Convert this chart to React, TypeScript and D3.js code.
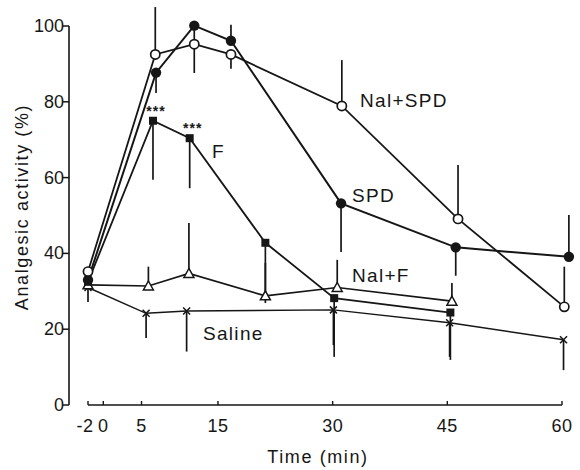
import React from "react";
import * as d3 from "d3";

// time (min) and analgesic activity (%)
const nalSpdT = [-2, 6.8, 11.9, 16.7, 31.2, 46.4, 60.3];
const nalSpdV = [35.2, 92.5, 95.2, 92.5, 78.9, 49.1, 25.9];
const nalSpdErr = [null, 105, null, 88.7, 91, 63.3, 36.5];

const spdT = [-2, 6.9, 11.9, 16.7, 31.1, 46.1, 60.9];
const spdV = [33, 87.7, 100.1, 96.1, 53.2, 41.6, 39.1];
const spdErr = [null, 82.3, 87.6, 100.3, 40.4, 34.1, 50.1];

const fT = [-2, 6.5, 11.3, 21.2, 30.2, 45.4];
const fV = [32.5, 75, 70.4, 42.8, 28.2, 24.4];
const fErr = [null, 59.4, 57.2, 26.9, 12.7, 11.9];

const nalFT = [-2, 5.9, 11.2, 21.2, 30.6, 45.6];
const nalFV = [31.7, 31.4, 34.7, 28.8, 31, 27.4];
const nalFErr = [null, 36.5, 48, 37.5, 38.3, 32.2];

const salineT = [-2, 5.6, 10.9, 30.1, 45.3, 60.2];
const salineV = [31, 24.2, 24.8, 25.1, 21.7, 17.2];
const salineErr = [27.2, 17.7, 14.1, 15.8, 12.7, 9.2];

// F points marked *** (index into fT)
const starred = [1, 2];

const xTicks = [-2, 0, 5, 15, 30, 45, 60];
const yTicks = [0, 20, 40, 60, 80, 100];

const ink = "#161616";
const font = "'Liberation Sans', Arial, sans-serif";

const width = 580;
const height = 470;

const x = d3.scaleLinear().domain([-2, 60]).range([88, 562]);
const y = d3.scaleLinear().domain([0, 100]).range([405, 26]);

type Series = {
  t: number[];
  v: number[];
  err: (number | null)[];
  marker: "openCircle" | "dot" | "square" | "triangle" | "cross";
  lw: number;
};

const series: Series[] = [
  { t: salineT, v: salineV, err: salineErr, marker: "cross", lw: 1.4 },
  { t: nalFT, v: nalFV, err: nalFErr, marker: "triangle", lw: 1.7 },
  { t: fT, v: fV, err: fErr, marker: "square", lw: 1.8 },
  { t: spdT, v: spdV, err: spdErr, marker: "dot", lw: 2 },
  { t: nalSpdT, v: nalSpdV, err: nalSpdErr, marker: "openCircle", lw: 1.8 },
];

const line = d3
  .line<[number, number]>()
  .x((d) => x(d[0]))
  .y((d) => y(d[1]));

function Marker({ kind, cx, cy }: { kind: Series["marker"]; cx: number; cy: number }) {
  if (kind === "openCircle")
    return <circle cx={cx} cy={cy} r={4.6} fill="#fff" stroke={ink} strokeWidth={1.7} />;
  if (kind === "dot") return <circle cx={cx} cy={cy} r={5.2} fill={ink} />;
  if (kind === "square")
    return <rect x={cx - 4} y={cy - 4} width={8} height={8} fill={ink} />;
  if (kind === "triangle") {
    const s = 5;
    return (
      <path
        d={`M${cx},${cy - s}L${cx + s},${cy + s * 0.8}L${cx - s},${cy + s * 0.8}Z`}
        fill="#fff"
        stroke={ink}
        strokeWidth={1.5}
      />
    );
  }
  const s = 3.5;
  return (
    <path
      d={`M${cx - s},${cy - s}L${cx + s},${cy + s}M${cx + s},${cy - s}L${cx - s},${cy + s}`}
      stroke={ink}
      strokeWidth={1.5}
    />
  );
}

export default function App() {
  const textStyle = { fontFamily: font, fill: ink, letterSpacing: "1.3px" } as const;
  return (
    <svg
      width={width}
      height={height}
      style={{ position: "absolute", left: 0, top: 0, background: "#fff" }}
    >
      {/* y axis */}
      <line x1={69} x2={69} y1={y(0)} y2={y(100)} stroke={ink} strokeWidth={1.6} />
      {yTicks.map((v) => (
        <g key={v}>
          <line x1={63} x2={69} y1={y(v)} y2={y(v)} stroke={ink} strokeWidth={1.5} />
          <text
            x={64}
            y={y(v)}
            textAnchor="end"
            dominantBaseline="central"
            fontSize={18}
            style={{ ...textStyle, letterSpacing: "0px" }}
          >
            {v}
          </text>
        </g>
      ))}
      <text
        transform={`translate(22,207) rotate(-90)`}
        textAnchor="middle"
        dominantBaseline="central"
        fontSize={18}
        style={{ ...textStyle, letterSpacing: "1.6px" }}
      >
        Analgesic activity (%)
      </text>

      {/* x axis */}
      <line x1={x(-2)} x2={x(60)} y1={405} y2={405} stroke={ink} strokeWidth={1.6} />
      {xTicks.map((t) => (
        <g key={t}>
          <line x1={x(t)} x2={x(t)} y1={405} y2={401} stroke={ink} strokeWidth={1.4} />
          <text
            x={x(t) - (t === -2 ? 3 : 0)}
            y={432}
            textAnchor="middle"
            fontSize={18}
            style={{ ...textStyle, letterSpacing: "0.5px" }}
          >
            {t}
          </text>
        </g>
      ))}
      <text x={318} y={463} textAnchor="middle" fontSize={18} style={{ ...textStyle, letterSpacing: "1.6px" }}>
        Time (min)
      </text>

      {/* lines */}
      {series.map((s, i) => (
        <path
          key={`l${i}`}
          d={line(s.t.map((t, j) => [t, s.v[j]] as [number, number])) || ""}
          fill="none"
          stroke={ink}
          strokeWidth={s.lw}
        />
      ))}

      {/* error bars */}
      {series.map((s, i) =>
        s.err.map((e, j) =>
          e == null ? null : (
            <line
              key={`e${i}-${j}`}
              x1={x(s.t[j])}
              x2={x(s.t[j])}
              y1={y(s.v[j])}
              y2={y(e)}
              stroke={ink}
              strokeWidth={1.7}
            />
          )
        )
      )}

      {/* markers */}
      {series.map((s, i) =>
        s.t.map((t, j) => (
          <Marker key={`m${i}-${j}`} kind={s.marker} cx={x(t)} cy={y(s.v[j])} />
        ))
      )}

      {/* significance marks */}
      {starred.map((j) => (
        <text
          key={`s${j}`}
          x={x(fT[j]) + 3}
          y={y(fV[j]) - 5}
          textAnchor="middle"
          fontSize={14}
          fontWeight="bold"
          style={{ ...textStyle, letterSpacing: "1px" }}
        >
          ***
        </text>
      ))}

      {/* series labels */}
      <text x={360} y={107} fontSize={19} style={textStyle}>Nal+SPD</text>
      <text x={352} y={202} fontSize={19} style={textStyle}>SPD</text>
      <text x={212} y={158} fontSize={19} style={textStyle}>F</text>
      <text x={352} y={282} fontSize={19} style={textStyle}>Nal+F</text>
      <text x={203} y={340} fontSize={19} style={textStyle}>Saline</text>
    </svg>
  );
}
